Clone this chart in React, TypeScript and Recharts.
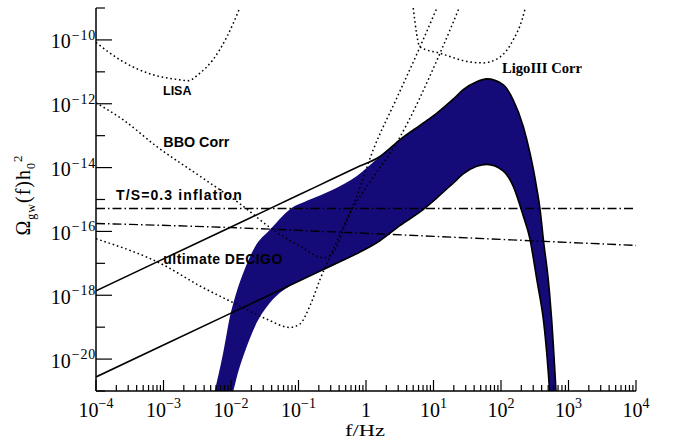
import React from 'react';
import { ComposedChart, Line, Area, XAxis, YAxis } from 'recharts';

// All curves are stored as log10(f / Hz) and log10(Omega_gw h0^2).

// LISA sensitivity
const lisaLogF = [-4, -3.64, -3.16, -2.76, -2.64, -2.46, -2.27, -2.06, -1.87];
const lisaLogOmega = [-10.08, -10.63, -11.09, -11.25, -11.28, -11.04, -10.63, -9.9, -9.0];

// BBO correlated sensitivity
const bboLogF = [-4, -3.6, -3.1, -2.46, -1.82, -1.42, -0.98, -0.63, -0.485, -0.336, -0.138, 0.108, 0.45, 0.8, 1.05];
const bboLogOmega = [-11.97, -12.5, -13.34, -14.27, -15.21, -15.88, -16.46, -16.82, -16.67, -15.94, -14.9, -13.44, -11.85, -10.22, -9.0];

// ultimate DECIGO sensitivity
const decigoLogF = [-4, -3.0, -2.46, -1.97, -1.47, -1.13, -0.98, -0.83, -0.68, -0.485, -0.237, 0.06, 0.46, 1.1, 1.38];
const decigoLogOmega = [-16.23, -17.05, -17.71, -18.23, -18.75, -19.01, -18.9, -18.33, -17.5, -16.56, -15.42, -14.45, -13.2, -10.4, -9.0];

// LIGO III correlated sensitivity
const ligoLogF = [0.7, 0.8, 1.1, 1.54, 1.73, 1.99, 2.18, 2.31, 2.36];
const ligoLogOmega = [-9.0, -10.22, -10.42, -10.69, -10.72, -10.53, -10.0, -9.38, -9.0];

// inflationary backgrounds
const inflationLogF = [-4, 4];
const inflationLogOmega = [-15.28, -15.28];
const inflation2LogF = [-4, -2, 0, 2, 4];
const inflation2LogOmega = [-15.75, -15.88, -16.06, -16.25, -16.44];

// upper and lower model spectra
const upperLogF = [-4, -3, -2, -1, -0.5, -0.14, 0.2, 0.5, 0.85, 1.05, 1.3, 1.44, 1.64, 1.79, 2.03, 2.18, 2.33, 2.43, 2.48, 2.53, 2.58, 2.63, 2.7, 2.72, 2.75, 2.815];
const upperLogOmega = [-17.86, -16.86, -15.86, -14.86, -14.36, -14.0, -13.66, -13.13, -12.6, -12.29, -11.84, -11.56, -11.31, -11.22, -11.4, -11.875, -12.71, -13.55, -14.06, -14.65, -15.33, -16.3, -17.5, -17.95, -18.75, -21];
const lowerLogF = [-4, -3, -2, -1, -0.5, -0.14, 0.2, 0.5, 0.85, 1.05, 1.3, 1.44, 1.64, 1.79, 2.03, 2.18, 2.33, 2.43, 2.48, 2.53, 2.58, 2.63, 2.7, 2.72];
const lowerLogOmega = [-20.56, -19.56, -18.56, -17.56, -17.06, -16.7, -16.3, -15.82, -15.31, -14.95, -14.47, -14.2, -13.96, -13.9, -14.1, -14.58, -15.52, -16.25, -16.85, -17.5, -18.1, -18.8, -20.4, -21];

// allowed band
const bandLogF = [-2.24, -2.12, -2.0, -1.966, -1.9, -1.8, -1.65, -1.42, -1.13, -0.83, -0.5, -0.14, 0.2, 0.5, 0.85, 1.05, 1.3, 1.44, 1.64, 1.79, 2.03, 2.18, 2.33, 2.43, 2.48, 2.53, 2.58, 2.63, 2.7, 2.72, 2.75, 2.815];
const bandTopLogOmega = [-21, -19.85, -18.52, -18.25, -17.78, -17.2, -16.5, -15.94, -15.31, -15.0, -14.7, -14.27, -13.66, -13.13, -12.6, -12.29, -11.84, -11.56, -11.31, -11.22, -11.4, -11.875, -12.71, -13.55, -14.06, -14.65, -15.33, -16.3, -17.5, -17.95, -18.75, -21];
const bandBottomLogOmega = [-23.0, -22.1, -21.25, -21.0, -20.45, -19.8, -19.0, -18.23, -17.71, -17.4, -17.08, -16.7, -16.3, -15.82, -15.31, -14.95, -14.47, -14.2, -13.96, -13.9, -14.1, -14.58, -15.52, -16.25, -16.85, -17.5, -18.1, -18.8, -20.4, -21.0, -21.6, -23.0];

// axis ticks (decade exponents)
const xDecades = [-4, -3, -2, -1, 0, 1, 2, 3, 4];
const yDecades = [-21, -20, -19, -18, -17, -16, -15, -14, -13, -12, -11, -10, -9];

const pow10 = (v: number) => Math.pow(10, v);
const toPoints = (lf: number[], lo: number[]) => lf.map((x, i) => ({ f: pow10(x), omega: pow10(lo[i]) }));

const lisa = toPoints(lisaLogF, lisaLogOmega);
const bbo = toPoints(bboLogF, bboLogOmega);
const decigo = toPoints(decigoLogF, decigoLogOmega);
const ligo = toPoints(ligoLogF, ligoLogOmega);
const inflation = toPoints(inflationLogF, inflationLogOmega);
const inflation2 = toPoints(inflation2LogF, inflation2LogOmega);
const upper = toPoints(upperLogF, upperLogOmega);
const lower = toPoints(lowerLogF, lowerLogOmega);
const band = bandLogF.map((x, i) => ({ f: pow10(x), range: [pow10(bandBottomLogOmega[i]), pow10(bandTopLogOmega[i])] }));

const xTicks: number[] = [];
xDecades.forEach((e) => {
  xTicks.push(pow10(e));
  if (e < 4) for (let m = 2; m <= 9; m++) xTicks.push(m * pow10(e));
});
const yTicks = yDecades.map(pow10);

const SERIF = '"Liberation Serif", "Times New Roman", serif';
const SANS = '"Liberation Sans", Arial, sans-serif';
const NAVY = '#140a78';
const DOTTED = '1.6 2.8';
const DASHDOT = '9 3 1.5 3';

const expText = (e: number) => (e < 0 ? '\u2212' + Math.abs(e) : String(e));
const decadeOf = (v: number) => {
  const lg = Math.log10(v);
  const e = Math.round(lg);
  return { e, major: Math.abs(lg - e) < 1e-6 };
};

function BottomTick(props: any) {
  const { x, y, payload } = props;
  const { e, major } = decadeOf(payload.value);
  return (
    <g>
      <line x1={x} y1={y} x2={x} y2={y - (major ? 11 : 6)} stroke="#000" strokeWidth={1.2} />
      {major && (
        <text x={x} y={y + 26} textAnchor="middle" fontFamily={SERIF} fontSize={20} fill="#000">
          {e === 0 ? (
            '1'
          ) : (
            <>
              <tspan>10</tspan>
              <tspan dy={-9} fontSize={14}>{expText(e)}</tspan>
            </>
          )}
        </text>
      )}
    </g>
  );
}

function TopTick(props: any) {
  const { x, y, payload } = props;
  const { major } = decadeOf(payload.value);
  return <line x1={x} y1={y} x2={x} y2={y + (major ? 10 : 5)} stroke="#000" strokeWidth={1.2} />;
}

function LeftTick(props: any) {
  const { x, y, payload } = props;
  const { e } = decadeOf(payload.value);
  const labelled = e % 2 === 0;
  return (
    <g>
      <line x1={x} y1={y} x2={x + (labelled ? 16 : 9)} y2={y} stroke="#000" strokeWidth={1.2} />
      {labelled && (
        <text x={x} y={y + 8.5} textAnchor="end" fontFamily={SERIF} fontSize={20} fill="#000">
          <tspan>10</tspan>
          <tspan dx={1} dy={-8.5} fontSize={14} letterSpacing={0.8}>{expText(e)}</tspan>
        </text>
      )}
    </g>
  );
}

function RightTick(props: any) {
  const { x, y } = props;
  return <line x1={x} y1={y} x2={x - 16} y2={y} stroke="#000" strokeWidth={1.2} />;
}

const frame = { stroke: '#000', strokeWidth: 1.5 };

export default function App() {
  const common = { isAnimationActive: false, dot: false, activeDot: false, xAxisId: 'b', yAxisId: 'l', dataKey: 'omega', type: 'monotone' as const };
  return (
    <div style={{ position: 'absolute', left: 0, top: 0, width: 675, height: 447 }}>
      <ComposedChart width={675} height={447} margin={{ top: 8, right: 39, bottom: 0, left: 0 }}>
        <XAxis xAxisId="b" dataKey="f" type="number" scale="log" domain={[1e-4, 1e4]} allowDataOverflow ticks={xTicks} interval={0} tick={<BottomTick />} tickLine={false} tickSize={0} tickMargin={0} axisLine={frame} height={56} />
        <XAxis xAxisId="t" orientation="top" dataKey="f" type="number" scale="log" domain={[1e-4, 1e4]} allowDataOverflow ticks={xTicks} interval={0} tick={<TopTick />} tickLine={false} tickSize={0} tickMargin={0} axisLine={frame} height={0} />
        <YAxis yAxisId="l" type="number" scale="log" domain={[1e-21, 1e-9]} allowDataOverflow ticks={yTicks} interval={0} tick={<LeftTick />} tickLine={false} tickSize={0} tickMargin={0} axisLine={frame} width={96} />
        <YAxis yAxisId="r" orientation="right" type="number" scale="log" domain={[1e-21, 1e-9]} allowDataOverflow ticks={yTicks} interval={0} tick={<RightTick />} tickLine={false} tickSize={0} tickMargin={0} axisLine={frame} width={0} />

        <Area data={band} dataKey="range" type="monotone" xAxisId="b" yAxisId="l" fill={NAVY} fillOpacity={1} stroke="none" isAnimationActive={false} dot={false} activeDot={false} />

        <Line {...common} data={lisa} stroke="#000" strokeWidth={1.5} strokeDasharray={DOTTED} />
        <Line {...common} data={bbo} stroke="#000" strokeWidth={1.5} strokeDasharray={DOTTED} />
        <Line {...common} data={decigo} stroke="#000" strokeWidth={1.5} strokeDasharray={DOTTED} />
        <Line {...common} data={ligo} stroke="#000" strokeWidth={1.5} strokeDasharray={DOTTED} />

        <Line {...common} data={inflation} type="linear" stroke="#000" strokeWidth={1.4} strokeDasharray={DASHDOT} />
        <Line {...common} data={inflation2} stroke="#000" strokeWidth={1.4} strokeDasharray={DASHDOT} />

        <Line {...common} data={upper} stroke="#000" strokeWidth={1.6} />
        <Line {...common} data={lower} stroke="#000" strokeWidth={1.6} />
      </ComposedChart>

      {/* curve annotations and axis titles, layered above the plotted series */}
      <svg width={675} height={447} style={{ position: 'absolute', left: 0, top: 0, pointerEvents: 'none' }}>
        <g fontFamily={SANS} fontWeight="bold" fill="#000">
          <text x={163} y={94.5} fontSize={13} textLength={28.5} lengthAdjust="spacingAndGlyphs">LISA</text>
          <text x={163.3} y={146.7} fontSize={14} textLength={66} lengthAdjust="spacingAndGlyphs">BBO Corr</text>
          <text x={116} y={200} fontSize={14} textLength={125.7} lengthAdjust="spacing">T/S=0.3 inflation</text>
          <text x={163.3} y={264} fontSize={14} textLength={119} lengthAdjust="spacing">ultimate DECIGO</text>
        </g>
        <text x={502} y={72.5} fontFamily={SERIF} fontWeight="bold" fontSize={14} textLength={80} lengthAdjust="spacingAndGlyphs" fill="#000">LigoIII Corr</text>

        <text x={365} y={436} textAnchor="middle" fontFamily={SERIF} fontSize={16} textLength={40} lengthAdjust="spacingAndGlyphs" fill="#000">f/Hz</text>
        <text transform="translate(30,195) rotate(-90)" x={0} y={0} textAnchor="middle" fontFamily={SERIF} fontSize={20} fill="#000" letterSpacing={1}>
          <tspan>Ω</tspan>
          <tspan dy={5} fontSize={12}>gw</tspan>
          <tspan dy={-5}>(f)h</tspan>
          <tspan dy={5} fontSize={12}>0</tspan>
          <tspan dy={-13} fontSize={13}>2</tspan>
        </text>
      </svg>
    </div>
  );
}
